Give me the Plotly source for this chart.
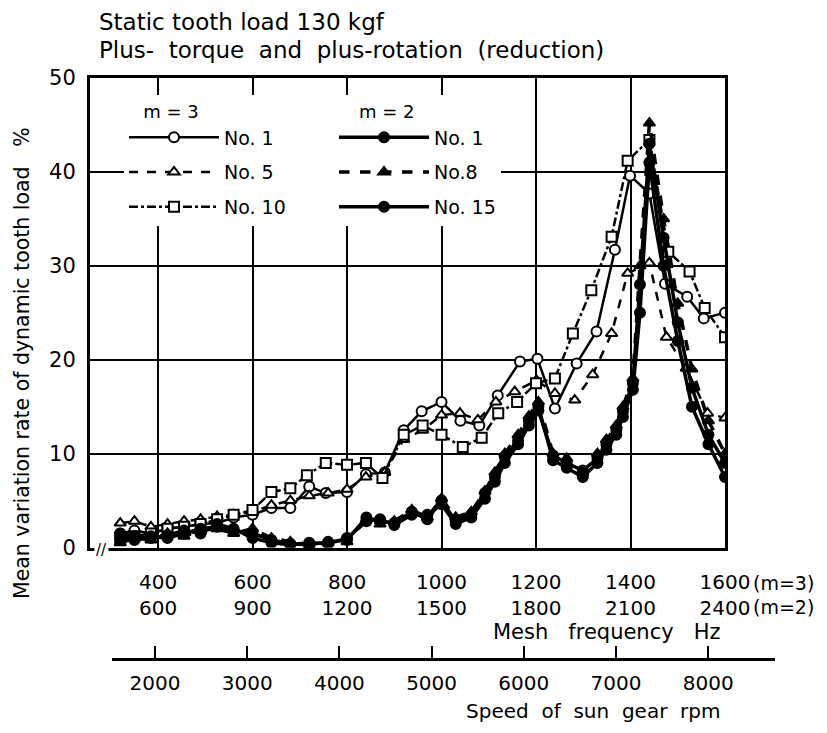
import plotly.graph_objects as go

# ---------------- data (x = mesh frequency on the m=3 scale, Hz) ----------------
m3_no1_f = [320, 350, 385, 420, 455, 490, 525, 560, 600, 640, 680, 720, 755, 800, 840, 880, 920, 958, 1000,
            1040, 1080, 1119, 1166, 1203, 1240, 1286, 1328, 1367, 1399, 1440, 1473, 1520, 1555, 1600]
m3_no1_v = [1.5, 1.8, 1.5, 2.0, 2.2, 2.5, 2.6, 3.2, 3.5, 4.2, 4.2, 6.5, 5.8, 5.9, 7.8, 8.0, 12.5, 14.5, 15.5,
            13.5, 13.0, 16.2, 19.8, 20.1, 14.8, 19.6, 23.0, 31.7, 39.6, 37.7, 28.1, 26.7, 24.4, 25.0]

m3_no5_f = [320, 350, 385, 420, 455, 490, 525, 560, 600, 640, 680, 720, 760, 800, 840, 880, 920, 960, 1000,
            1039, 1077, 1115, 1155, 1201, 1240, 1282, 1320, 1360, 1394, 1440, 1476, 1518, 1563, 1600]
m3_no5_v = [2.6, 2.8, 2.2, 2.5, 2.8, 3.0, 3.3, 3.5, 3.8, 4.5, 5.0, 5.5, 5.8, 6.2, 7.5, 8.0, 11.5, 12.5, 14.1,
            14.3, 13.6, 15.5, 16.6, 17.8, 16.4, 15.7, 18.4, 22.8, 29.2, 30.3, 22.4, 19.1, 14.3, 13.8]

m3_no10_f = [320, 350, 385, 420, 455, 490, 525, 560, 600, 640, 680, 715, 755, 800, 840, 875, 920, 960, 1000,
             1045, 1085, 1120, 1160, 1200, 1240, 1278, 1317, 1360, 1394, 1440, 1480, 1525, 1557, 1600]
m3_no10_v = [1.0, 1.2, 1.5, 2.0, 2.2, 2.5, 3.0, 3.5, 4.0, 5.9, 6.3, 7.7, 9.0, 8.8, 9.0, 7.4, 12.0, 13.0, 12.0,
             10.7, 11.7, 14.3, 15.5, 17.5, 18.0, 22.8, 27.4, 33.1, 41.2, 43.4, 31.5, 29.4, 25.5, 22.4]

m2_f = [320, 350, 385, 420, 455, 490, 525, 560, 600, 640, 680, 720, 760, 800, 841, 870, 900, 937, 970, 1000,
        1030, 1063, 1092, 1113, 1134, 1162, 1185, 1205, 1236, 1265, 1299, 1330, 1349, 1370, 1384, 1405, 1420,
        1440, 1470, 1500, 1530, 1565, 1600]
m2_no1_v = [1.5, 1.2, 1.0, 1.3, 1.8, 1.5, 2.5, 2.0, 1.0, 0.5, 0.3, 0.5, 0.4, 1.0, 2.8, 3.0, 2.4, 3.5, 3.5, 4.6,
            2.5, 3.2, 5.2, 7.0, 9.0, 11.0, 13.0, 14.6, 9.8, 9.0, 8.2, 9.5, 11.0, 12.5, 14.5, 17.5, 28.0,
            43.0, 33.0, 24.0, 17.0, 12.0, 9.0]
m2_no8_v = [0.5, 1.0, 0.8, 1.5, 1.2, 1.8, 2.0, 1.5, 2.0, 1.0, 0.6, 0.2, 0.5, 0.6, 3.0, 2.5, 2.8, 4.0, 3.2, 5.2,
            3.2, 3.8, 6.0, 8.0, 10.0, 12.0, 14.0, 15.5, 10.0, 9.5, 8.0, 10.0, 11.5, 13.0, 15.0, 18.0, 30.0,
            45.2, 35.0, 26.0, 19.0, 13.5, 10.0]
m2_no15_v = [1.0, 0.8, 1.2, 1.0, 1.5, 2.0, 2.2, 1.8, 1.5, 0.8, 0.4, 0.3, 0.6, 0.8, 3.2, 2.8, 2.6, 3.8, 3.0, 5.0,
             2.8, 3.5, 5.8, 7.5, 9.7, 11.4, 13.5, 15.0, 9.3, 8.5, 7.5, 9.0, 10.4, 12.0, 13.9, 16.8, 25.0,
             41.0, 30.0, 22.0, 15.0, 11.0, 7.5]

mesh_m3 = [400, 600, 800, 1000, 1200, 1400, 1600]
mesh_m2 = [600, 900, 1200, 1500, 1800, 2100, 2400]
rpm_ticks = [2000, 3000, 4000, 5000, 6000, 7000, 8000]
y_ticks = [0, 10, 20, 30, 40, 50]

FONT = "DejaVu Sans, sans-serif"
BLACK = "black"
NB = "\u00a0"

fig = go.Figure()


def add(name, f, v, symbol, filled, dash, lw, legend, group):
    fig.add_trace(go.Scatter(
        x=f, y=v, name=name, mode="lines+markers",
        legend=legend, legendgroup=group,
        line=dict(color=BLACK, width=lw, dash=dash),
        marker=dict(symbol=symbol, size=10,
                    color=BLACK if filled else "white",
                    line=dict(color=BLACK, width=2)),
    ))


pad = NB * 12
add("No. 1" + pad, m3_no1_f, m3_no1_v, "circle", False, "solid", 2.5, "legend", "a1")
add("No. 5" + pad, m3_no5_f, m3_no5_v, "triangle-up", False, "dash", 2.5, "legend", "a2")
add("No. 10" + pad, m3_no10_f, m3_no10_v, "square", False, "dashdot", 2.5, "legend", "a3")
add("No. 1", m2_f, m2_no1_v, "circle", True, "solid", 3.5, "legend2", "b1")
add("No.8", m2_f, m2_no8_v, "triangle-up", True, "dash", 3.5, "legend2", "b2")
add("No. 15", m2_f, m2_no15_v, "circle", True, "solid", 3.5, "legend2", "b3")

# empty trace so the rpm axis subplot exists
fig.add_trace(go.Scatter(x=[], y=[], xaxis="x2", yaxis="y2", showlegend=False, hoverinfo="skip"))

# page offset (body margin 8 px) handled: figure drawn 811x717
W, H = 811, 717
OFF = 8
L, T = 90 - OFF, 78 - OFF
B = H - (658 - OFF)
R = W - (775 - OFF)
PW, PH = W - L - R, H - T - B


def px_x(p):  # page pixel -> paper fraction
    return (p - OFF - L) / PW


def px_y(p):
    return (H - B - (p - OFF)) / PH


legend_common = dict(
    orientation="v", xanchor="left", yanchor="top",
    bgcolor="white", borderwidth=0, font=dict(size=19, family=FONT),
    itemwidth=90, tracegroupgap=7, traceorder="grouped",
)

fig.update_layout(
    width=W, height=H,
    margin=dict(l=L, r=R, t=T, b=B, pad=0),
    paper_bgcolor="white", plot_bgcolor="white",
    font=dict(family=FONT, size=19, color=BLACK),
    showlegend=True,
    legend=dict(x=px_x(124), y=px_y(95),
                title=dict(text=NB * 3 + "m = 3", font=dict(size=18)), **legend_common),
    legend2=dict(x=px_x(334), y=px_y(95),
                 title=dict(text=NB * 4 + "m = 2", font=dict(size=18)), **legend_common),
    xaxis=dict(
        domain=[0, px_x(725)], range=[256, 1600],
        tickmode="array", tickvals=mesh_m3,
        ticktext=[f"{a}<br>{b}" for a, b in zip(mesh_m3, mesh_m2)],
        showgrid=True, gridcolor=BLACK, gridwidth=2,
        showline=True, linecolor=BLACK, linewidth=3, mirror=True,
        ticks="", zeroline=False, tickfont=dict(size=20), ticklabelstandoff=14,
    ),
    yaxis=dict(
        domain=[px_y(547.5), 1], range=[0, 50],
        tickmode="array", tickvals=y_ticks,
        showgrid=True, gridcolor=BLACK, gridwidth=2,
        showline=True, linecolor=BLACK, linewidth=3, mirror=True,
        ticks="", zeroline=False, tickfont=dict(size=21), ticklabelstandoff=7,
    ),
    xaxis2=dict(
        domain=[px_x(112), 1], range=[1534, 8724], anchor="y2",
        tickmode="array", tickvals=rpm_ticks,
        showgrid=False, zeroline=False,
        showline=True, linecolor=BLACK, linewidth=3,
        ticks="inside", ticklen=12, tickwidth=1.5, tickcolor=BLACK,
        tickfont=dict(size=20), ticklabelstandoff=5,
    ),
    yaxis2=dict(domain=[0, 0.001], visible=False, anchor="x2", range=[0, 1]),
)

ann = [
    dict(text="Static tooth load 130 kgf", x=px_x(97), y=px_y(22), xanchor="left", yanchor="middle",
         font=dict(size=23)),
    dict(text="Plus-" + NB + " torque" + NB + " and" + NB + " plus-rotation" + NB + " (reduction)",
         x=px_x(97), y=px_y(50), xanchor="left", yanchor="middle", font=dict(size=23)),
    dict(text="Mean variation rate of dynamic tooth load" + NB + NB + " %", x=px_x(22), y=px_y(363),
         textangle=-90, xanchor="center", yanchor="middle", font=dict(size=20.5)),
    dict(text="(m=3)", x=px_x(751), y=px_y(583), xanchor="left", yanchor="middle", font=dict(size=19)),
    dict(text="(m=2)", x=px_x(751), y=px_y(607), xanchor="left", yanchor="middle", font=dict(size=19)),
    dict(text="Mesh" + NB + NB + " frequency" + NB + NB + " Hz", x=px_x(722), y=px_y(632),
         xanchor="right", yanchor="middle", font=dict(size=21)),
    dict(text="Speed" + NB + " of" + NB + " sun" + NB + " gear" + NB + " rpm", x=px_x(722), y=px_y(711),
         xanchor="right", yanchor="middle", font=dict(size=20)),
    dict(text="//", x=px_x(101), y=px_y(550), xanchor="center", yanchor="middle", bgcolor="white",
         font=dict(size=15)),
]
for a in ann:
    a.setdefault("xref", "paper")
    a.setdefault("yref", "paper")
    a.setdefault("showarrow", False)
    a.setdefault("font", dict(size=19))
fig.update_layout(annotations=ann)

fig.write_html("out.html")
